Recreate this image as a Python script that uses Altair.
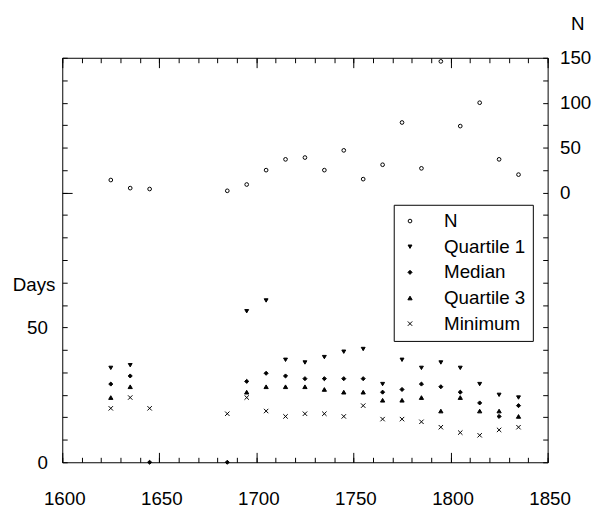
import altair as alt
import pandas as pd

FONT = "Liberation Sans"
FS = 19

# ---- data ----
years = [1625, 1635, 1645, 1685, 1695, 1705, 1715, 1725, 1735, 1745,
         1755, 1765, 1775, 1785, 1795, 1805, 1815, 1825, 1835]
n_values = [14, 5, 4, 2, 9, 25, 37, 39, 25, 47, 15, 31, 78, 27, 146, 74, 100, 37, 20]
quartile1 = [35, 36, None, None, 56, 60, 38, 37, 39, 41, 42, 29, 38, 35, 37, 35, 29, 25, 24]
median = [29, 32, 0, 0, 30, 33, 32, 31, 31, 31, 31, 26, 27, 29, 28, 26, 22, 17, 21]
quartile3 = [24, 28, None, None, 26, 28, 28, 28, 27, 26, 26, 23, 23, 24, 19, 24, 19, 19, 17]
minimum = [20, 24, 20, 18, 24, 19, 17, 18, 18, 17, 21, 16, 16, 15, 13, 11, 10, 12, 13]

series_names = ["N", "Quartile 1", "Median", "Quartile 3", "Minimum"]
series_shapes = ["circle", "triangle-down", "diamond", "triangle-up", "M-1,-1L1,1M-1,1L1,-1"]
series_fills = ["white", "black", "black", "black", "black"]
series_strokes = ["black", "black", "black", "black", "black"]
series_sizes = [14, 20, 70, 20, 18]

x_minor = list(range(1600, 1851, 10))
x_major = list(range(1600, 1851, 50))
days_ticks = [i * 50 / 6 for i in range(19)]
n_ticks = list(range(-300, 151, 25))

df_n = pd.DataFrame({"year": years, "value": n_values, "series": ["N"] * len(years)})
rows = []
for name, vals in [("Quartile 1", quartile1), ("Median", median),
                   ("Quartile 3", quartile3), ("Minimum", minimum)]:
    for yr, v in zip(years, vals):
        if v is not None:
            rows.append({"year": yr, "value": v, "series": name})
df_days = pd.DataFrame(rows)

x_scale = alt.Scale(domain=[1600, 1850], nice=False, zero=False)
days_scale = alt.Scale(domain=[0, 150], nice=False)
n_scale = alt.Scale(domain=[-300, 150], nice=False)

common = dict(domain=False, grid=False, tickColor="black", tickWidth=1,
              labelFont=FONT, labelFontSize=FS, labelColor="black",
              titleFont=FONT, titleFontSize=FS, titleColor="black",
              titleFontWeight="normal", labelOverlap=False, labelFlush=False)

legend = alt.Legend(title=None, orient="none", legendX=336, legendY=149,
                    direction="vertical", strokeColor="black", fillColor="white",
                    padding=7, labelFont=FONT, labelFontSize=FS, labelColor="black",
                    labelOffset=25, rowPadding=6, symbolStrokeWidth=1, symbolOpacity=1)

shape_enc = alt.Shape("series:N", scale=alt.Scale(domain=series_names, range=series_shapes), legend=legend)
fill_enc = alt.Fill("series:N", scale=alt.Scale(domain=series_names, range=series_fills), legend=legend)
stroke_enc = alt.Stroke("series:N", scale=alt.Scale(domain=series_names, range=series_strokes), legend=legend)
size_enc = alt.Size("series:N", scale=alt.Scale(domain=series_names, range=series_sizes), legend=legend)

pt = dict(filled=True, strokeWidth=1, opacity=1)

layer_n = alt.Chart(df_n).mark_point(**pt).encode(
    x=alt.X("year:Q", scale=x_scale,
            axis=alt.Axis(orient="top", values=x_minor, tickSize={"expr": "-5"},
                          labels=False, title=None, **common)),
    y=alt.Y("value:Q", scale=n_scale,
            axis=alt.Axis(orient="right", values=n_ticks, tickSize={"expr": "-5"},
                          labelExpr="datum.value >= 0 && datum.value % 50 == 0 ? datum.label : ''",
                          labelAlign="left", labelPadding=17, title="N", titleAngle=0,
                          titleX=30, titleY=-35, titleAlign="center", titleBaseline="middle",
                          **common)),
    shape=shape_enc, fill=fill_enc, stroke=stroke_enc, size=size_enc,
)

layer_days = alt.Chart(df_days).mark_point(**pt).encode(
    x=alt.X("year:Q", scale=x_scale,
            axis=alt.Axis(orient="bottom", values=x_minor, tickSize={"expr": "-5"},
                          labels=False, title=None, **common)),
    y=alt.Y("value:Q", scale=days_scale,
            axis=alt.Axis(orient="left", values=days_ticks, tickSize={"expr": "-5"},
                          labelExpr="datum.value == 0 || datum.value == 50 ? datum.label : ''",
                          labelPadding=20, title="Days", titleAngle=0, titleX=-29, titleY=230,
                          titleAlign="center", titleBaseline="middle", **common)),
    shape=shape_enc, fill=fill_enc, stroke=stroke_enc, size=size_enc,
)

layer_major_bottom = alt.Chart(df_days).mark_point(opacity=0).encode(
    x=alt.X("year:Q", scale=x_scale,
            axis=alt.Axis(orient="bottom", values=x_major, tickSize={"expr": "-10"},
                          format="d", labelPadding=38, labelOffset=2, title=None, **common)),
    y=alt.Y("value:Q", scale=days_scale,
            axis=alt.Axis(orient="left", values=[100], tickSize={"expr": "-10"},
                          labels=False, title=None, **common)),
)

layer_major_top = alt.Chart(df_days).mark_point(opacity=0).encode(
    x=alt.X("year:Q", scale=x_scale,
            axis=alt.Axis(orient="top", values=x_major, tickSize={"expr": "-10"},
                          labels=False, title=None, **common)),
    y=alt.Y("value:Q", scale=days_scale, axis=None),
)

chart = alt.layer(layer_n, layer_days, layer_major_bottom, layer_major_top).resolve_scale(
    y="independent"
).resolve_axis(
    x="independent", y="independent"
).properties(
    width=492, height=410,
    autosize=alt.AutoSizeParams(type="none"),
    padding={"left": 55, "top": 47, "right": 47, "bottom": 50},
    background="white",
).configure_view(stroke="black", strokeWidth=1)

chart.save("out.html", embed_options={"renderer": "svg", "actions": False})
